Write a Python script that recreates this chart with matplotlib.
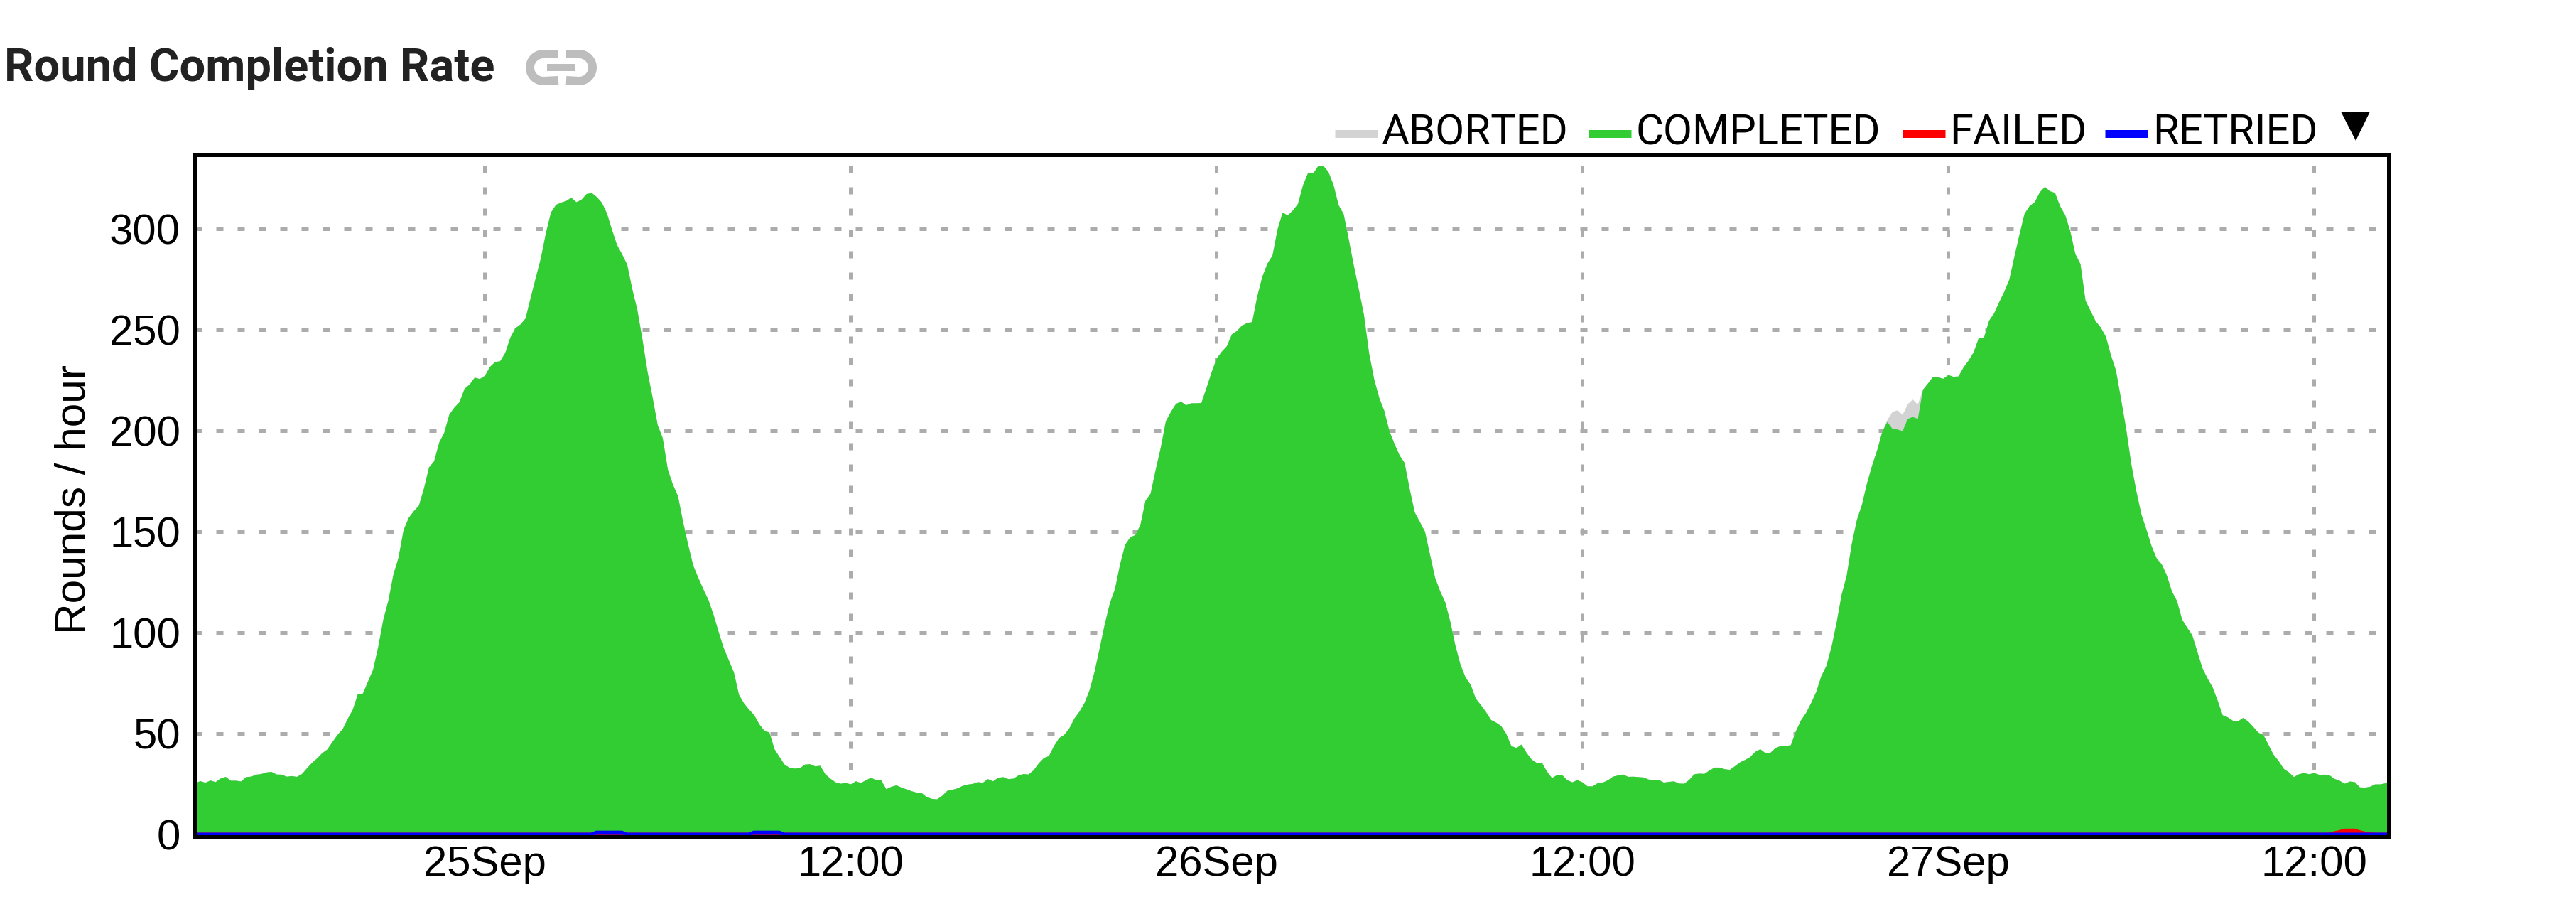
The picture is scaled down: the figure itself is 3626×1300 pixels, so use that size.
# round completion rate, stacked area with manual legend and link icon

import numpy as np
import matplotlib
matplotlib.use("Agg")
import matplotlib.pyplot as plt
from matplotlib.patches import Polygon

W, H = 3626, 1300
DPI = 100
PX = 72 / DPI

# samples every 10 minutes, first one at 24 Sep 14:30
start_hour = -9.5
completed = [
    25.6, 26.6, 25.8, 26.9, 26.1, 27.9, 28.7, 26.8, 26.8, 26.4, 28.6, 28.8, 29.8, 30.1, 30.9, 31.2,
    29.9, 29.8, 28.8, 29.1, 28.7, 30.1, 33, 35.7, 37.9, 40.5, 42.3, 46, 49.5, 52.3, 57.4, 62,
    69.7, 70, 76, 81.8, 93, 106.5, 116, 129, 137.3, 151, 157, 160.3, 163, 171.5, 182, 185,
    194.3, 199.2, 208.2, 211.7, 214.3, 221, 223.1, 226.5, 225.8, 227.4, 231.8, 234.2, 234.6, 238.7,
    246.3, 251, 252.8, 255.8, 266, 275.8, 285.5, 298, 308.3, 312.1, 313.2,
    314, 315.6, 313.4, 314.6, 317.4, 318, 316, 313.2, 308, 299.8, 292.2, 287.6, 282.5, 270.4, 260,
    245.5, 229.4, 216.7, 203, 196.5, 181, 173.5, 167.8, 155, 143.7, 133.4, 127.3, 121.6, 116.3,
    109, 100.5, 92.5, 86.5, 80.5, 69.4, 65.1, 62, 59.3, 54.8, 51.5, 50.7, 42.4, 38.5, 34.7, 33.2,
    32.8, 33, 34.8, 35, 33.9, 34.2, 30, 27.8, 26, 25.3, 25.7, 25, 26.5, 25.7, 27, 28.3, 27, 27,
    22.6, 23.8, 24.5, 23.4, 22.5, 21.6, 20.9, 20.6, 18.6,
    17.8, 17.6, 19.3, 21.8, 22.3, 23, 24.2, 24.9, 25.2, 26.1, 25.8, 27.6, 26.5, 28.2, 28.6, 27.6,
    27.8, 29.4, 30.1, 29.9, 32, 35.4, 38, 39, 44, 47.9, 49.5, 52.7, 57.6, 61, 65.3, 71.7, 81, 92.6,
    104.5, 114.8, 121.8, 134, 143.7, 147.3, 148.5, 153.5, 165.5, 169, 180.8, 191.7, 204.8, 209.5,
    213.5, 214.6, 212.8, 213.8, 213.8, 213.9, 221.4, 229, 235.9, 239.3, 242, 247.9, 249.6, 252.3,
    253.5, 254, 266.8, 276.5, 283, 287, 300, 308.3, 306.8, 309.3, 312.5,
    321.8, 327.9, 327.6, 331.3, 331.4, 328.4, 322, 312, 307.5, 295, 282, 270, 257.5, 238.7, 225.7,
    216.5, 210, 200, 193.7, 188, 184.2, 171.2, 159.7, 155, 150.2, 138.7, 127.3, 120.6, 115.1, 105.5,
    93.6, 84.2, 77.9, 74.3, 67.5, 64.3, 60.9, 56.9, 55.6, 53.9, 50, 44, 43, 44.7, 40.6, 37.3, 35.6,
    35.8, 31.4, 28.1, 29.6, 29.6, 27.1, 26, 27.1, 26, 24, 24, 25.6, 25.9, 27, 28.8, 29.4, 29.9, 28.7,
    28.8, 28.6, 28.4, 27.4, 27, 27.2, 25.9, 26.2,
    26.5, 25.4, 25.3, 27.2, 30, 30.3, 30.2, 31.9, 33.3, 33.3, 32.5, 32.2, 34, 35.9, 37.1, 38.5, 41.1,
    42.4, 40.5, 40.7, 43, 44, 44, 44.4, 51.4, 56.7, 60.4, 65.3, 70.8, 78.6, 83.7, 93, 105, 119, 128.5,
    144.2, 156, 163.6, 174.2, 183, 190.6, 199.8, 204.5, 201.1, 200.8, 200, 206, 207, 206, 220.5,
    223.6, 226.9, 226.7, 225.9, 227.8, 226.9, 227.1, 231.6, 235, 239.2, 246.2, 246.2, 254.6, 258.3,
    263.8, 269, 275, 286.4, 297.4, 307.7, 311.5, 313.4,
    318.3, 321, 318.8, 318, 311.4, 307, 299, 287.7, 282.8, 264.6, 259.5, 254.4, 251.3, 246.8, 237.6,
    229.9, 215.7, 201, 183.7, 170.2, 158.7, 151.1, 143, 136.9, 134, 128.5, 120.6, 115.8, 106.7, 102.6,
    98.9, 90.7, 82.6, 77.5, 73.1, 66.5, 59.2, 58.2, 56.5, 56.2, 57.9, 56.2, 53.5, 50.6, 49.5, 44.6,
    39.7, 36.6, 32.7, 31, 28.6, 30, 30.6, 30, 30.6, 29.7, 29.8, 29.5, 27.7, 26.8, 25.3, 26.4, 26.1,
    23.5, 23.4, 23.8, 25, 25, 25.5, 26,
]
n = len(completed)
aborted = [0] * 333 + [1, 8.4, 9.5, 8, 7.3, 8.6, 7.2] + [0] * (n - 340)
failed = [0] * 421 + [0.7, 1.2, 2, 2, 2, 1.2, 0.6, 0.2] + [0] * (n - 429)
retried = [0] * 79 + [1] * 6 + [0] * 25 + [1] * 6 + [0] * (n - 116)

series_names = ["ABORTED", "COMPLETED", "FAILED", "RETRIED"]
series_colors = ["#d3d3d3", "#32cd32", "#ff0000", "#0000ff"]

x_ticks = [0, 12, 24, 36, 48, 60]
x_labels = ["25Sep", "12:00", "26Sep", "12:00", "27Sep", "12:00"]
y_ticks = [0, 50, 100, 150, 200, 250, 300]

hours = start_hour + np.arange(n) / 6
comp = np.array(completed, dtype=float)
abor = np.array(aborted, dtype=float)

fig = plt.figure(figsize=(W / DPI, H / DPI), dpi=DPI, facecolor="white")

# axes box in pixels, matching the thick black frame
left, right, top, bottom = 273.5, 3363, 217.5, 1178
ax = fig.add_axes([left / W, 1 - bottom / H, (right - left) / W, (bottom - top) / H])
ax.set_xlim(-9.52, 62.47)
ax.set_ylim(-1.41, 336.8)

grid_c = "#acacac"
for v in y_ticks[1:]:
    ax.axhline(v, color=grid_c, lw=5 * PX, ls=(0, (2, 4)), zorder=1)
for t in x_ticks:
    ax.axvline(t, color=grid_c, lw=5 * PX, ls=(5, (2, 4)), zorder=1)

ax.fill_between(hours, 0, comp + abor, color=series_colors[0], lw=0, zorder=2)
ax.fill_between(hours, 0, comp, color=series_colors[1], lw=0, zorder=3)
ax.fill_between(hours, 0, failed, color=series_colors[2], lw=0, zorder=4)
ax.plot(hours, failed, color=series_colors[2], lw=5 * PX, zorder=4)
ax.fill_between(hours, 0, retried, color=series_colors[3], lw=0, zorder=5)
ax.plot(hours, retried, color=series_colors[3], lw=5 * PX, zorder=5)

for s in ax.spines.values():
    s.set_linewidth(6 * PX)
    s.set_color("black")
    s.set_zorder(10)

ax.set_xticks(x_ticks, x_labels)
ax.set_yticks(y_ticks)
ax.tick_params(axis="x", length=0, pad=8, labelsize=43, labelfontfamily="Liberation Sans")
ax.tick_params(axis="y", length=0, pad=14, labelsize=43, labelfontfamily="Liberation Sans")

# overlay in pixel coordinates for title, legend and icons
ov = fig.add_axes([0, 0, 1, 1], zorder=20)
ov.set_xlim(0, W)
ov.set_ylim(H, 0)
ov.axis("off")

ov.text(104, 702, "Rounds / hour", rotation=90, ha="center", va="center",
        fontsize=43.5, family="Liberation Sans", color="black")
ov.text(6, 114, "Round Completion Rate", ha="left", va="baseline", fontsize=46.8,
        family="Roboto", fontweight="bold", color="#222222")

# link icon
icon = "#bdbdbd"
a = np.linspace(np.pi / 2, 3 * np.pi / 2, 30)
ov.plot(np.r_[786, 765 + 19 * np.cos(a), 786], np.r_[76, 95 - 19 * np.sin(a), 113],
        color=icon, lw=12 * PX, solid_capstyle="butt")
ov.plot(np.r_[797, 815 - 19 * np.cos(a), 797], np.r_[76, 95 - 19 * np.sin(a), 113],
        color=icon, lw=12 * PX, solid_capstyle="butt")
ov.plot([770, 810], [95, 95], color=icon, lw=10 * PX, solid_capstyle="butt")

# legend
swatch_x = [1879, 2236, 2678, 2963]
label_x = [1944, 2302, 2744, 3030]
for name, c, sx, lx in zip(series_names, series_colors, swatch_x, label_x):
    ov.plot([sx, sx + 60], [188, 188], color=c, lw=11 * PX, solid_capstyle="butt")
    ov.text(lx, 203, name, ha="left", va="baseline", fontsize=43, family="Roboto", color="black")
ov.add_patch(Polygon([(3295, 157), (3336, 157), (3316, 198)], closed=True, color="black", lw=0))

fig.savefig("out.png", dpi=DPI, facecolor="white")
